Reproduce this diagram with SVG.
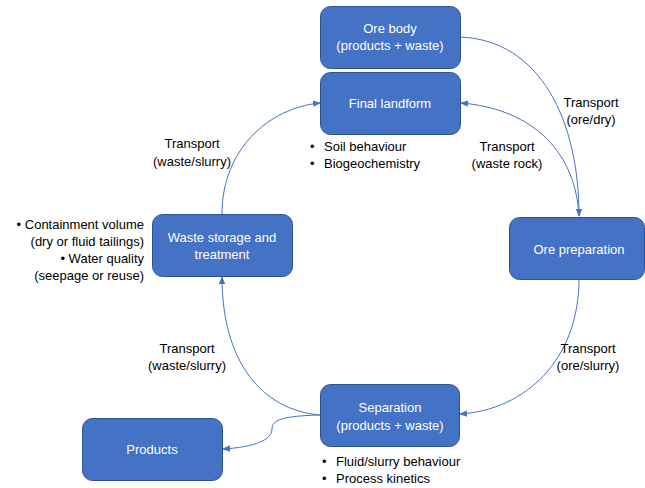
<svg xmlns="http://www.w3.org/2000/svg" width="645" height="488" viewBox="0 0 645 488">
<style>
.box{fill:#4472C4;stroke:#2F528F;stroke-width:1}
.bt{font-family:"Liberation Sans",Arial,sans-serif;font-size:13px;fill:#FFFFFF;text-anchor:middle}
.lt{font-family:"Liberation Sans",Arial,sans-serif;font-size:13px;fill:#000000}
.c{text-anchor:middle}
.r{text-anchor:end}
.con{fill:none;stroke:#4472C4;stroke-width:1;marker-end:url(#ah)}
</style>
<defs>
<marker id="ah" markerUnits="userSpaceOnUse" markerWidth="8" markerHeight="8" viewBox="0 0 8 8" refX="7" refY="4" orient="auto">
<path d="M0,0.8 L8,4 L0,7.2 Z" fill="#4472C4"/>
</marker>
</defs>
<rect width="645" height="488" fill="#FFFFFF"/>
<g id="connectors">
<path class="con" d="M460,37 C540,40 579,120 579,216"/>
<path class="con" d="M579,216 C575,145 525,108 461,103"/>
<path class="con" d="M579,279 C579,360 525,410 460,414"/>
<path class="con" d="M320,415 C262,410 222,362 222,277"/>
<path class="con" d="M222,214 C222,150 268,108 320,103"/>
<path class="con" d="M320,415 C282,416 272,420 272,429 C272,440 255,447 223,449"/>
</g>
<g id="ore-body">
<rect class="box" x="320.5" y="6.5" width="140" height="62" rx="10"/>
<text class="bt" x="390" y="33">Ore body</text>
<text class="bt" x="390" y="50">(products + waste)</text>
</g>
<g id="final-landform">
<rect class="box" x="320.5" y="72.5" width="140" height="62" rx="10"/>
<text class="bt" x="390" y="108">Final landform</text>
</g>
<g id="ore-preparation">
<rect class="box" x="509.5" y="217.5" width="135" height="62" rx="10"/>
<text class="bt" x="579" y="254">Ore preparation</text>
</g>
<g id="waste-storage">
<rect class="box" x="152.5" y="214.5" width="140" height="62" rx="10"/>
<text class="bt" x="222" y="242">Waste storage and</text>
<text class="bt" x="222" y="259">treatment</text>
</g>
<g id="separation">
<rect class="box" x="320.5" y="384.5" width="139" height="62" rx="10"/>
<text class="bt" x="390" y="412">Separation</text>
<text class="bt" x="390" y="430">(products + waste)</text>
</g>
<g id="products">
<rect class="box" x="82.5" y="418.5" width="140" height="62" rx="10"/>
<text class="bt" x="152" y="454">Products</text>
</g>
<g id="labels">
<text class="lt c" x="591" y="107">Transport</text>
<text class="lt c" x="591" y="124">(ore/dry)</text>
<text class="lt c" x="507" y="151">Transport</text>
<text class="lt c" x="507" y="168">(waste rock)</text>
<text class="lt c" x="192" y="148">Transport</text>
<text class="lt c" x="192" y="166">(waste/slurry)</text>
<text class="lt c" x="187" y="353">Transport</text>
<text class="lt c" x="187" y="370">(waste/slurry)</text>
<text class="lt c" x="588" y="353">Transport</text>
<text class="lt c" x="588" y="370">(ore/slurry)</text>
<text class="lt" x="310" y="151">•</text>
<text class="lt" x="324" y="151">Soil behaviour</text>
<text class="lt" x="310" y="168">•</text>
<text class="lt" x="324" y="168">Biogeochemistry</text>
<text class="lt r" x="144" y="229">•  Containment volume</text>
<text class="lt r" x="144" y="246">(dry or fluid tailings)</text>
<text class="lt r" x="144" y="263">•  Water quality</text>
<text class="lt r" x="144" y="280">(seepage or reuse)</text>
<text class="lt" x="322" y="466">•</text>
<text class="lt" x="336" y="466">Fluid/slurry behaviour</text>
<text class="lt" x="322" y="483">•</text>
<text class="lt" x="336" y="483">Process kinetics</text>
</g>
</svg>
